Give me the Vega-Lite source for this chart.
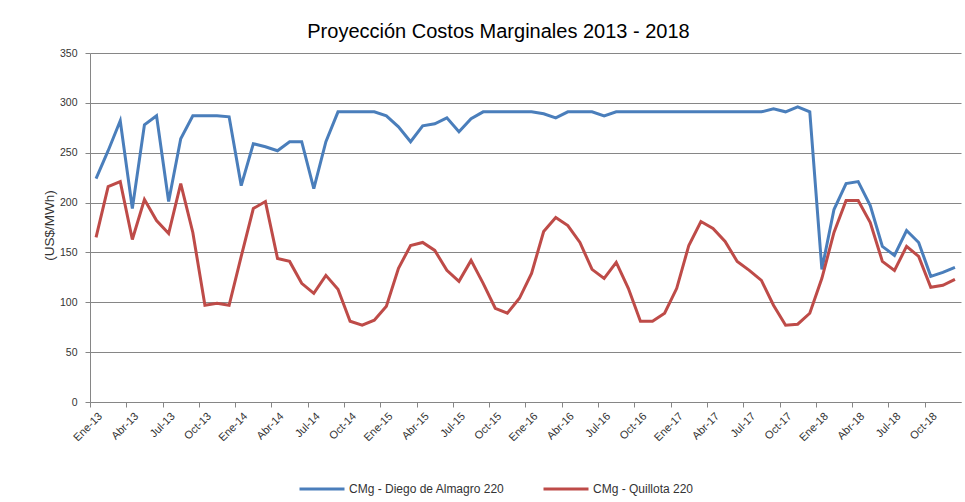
{
  "$schema": "https://vega.github.io/schema/vega-lite/v6.json",
  "width": 871,
  "height": 349,
  "autosize": {"type": "none"},
  "padding": {"left": 90, "top": 53, "right": 4, "bottom": 100},
  "background": "white",
  "config": {"font": "Liberation Sans", "view": {"stroke": null}},
  "title": {"text": "Proyección Costos Marginales 2013 - 2018", "fontSize": 20, "fontWeight": "normal", "color": "black", "dx": -27, "offset": 6, "anchor": "middle"},
  "data": {"values": [
    {"mes": "Ene-13", "CMg - Diego de Almagro 220": 224, "CMg - Quillota 220": 165},
    {"mes": "Feb-13", "CMg - Diego de Almagro 220": 252, "CMg - Quillota 220": 216},
    {"mes": "Mar-13", "CMg - Diego de Almagro 220": 282, "CMg - Quillota 220": 221},
    {"mes": "Abr-13", "CMg - Diego de Almagro 220": 194, "CMg - Quillota 220": 163},
    {"mes": "May-13", "CMg - Diego de Almagro 220": 278, "CMg - Quillota 220": 203},
    {"mes": "Jun-13", "CMg - Diego de Almagro 220": 287, "CMg - Quillota 220": 182},
    {"mes": "Jul-13", "CMg - Diego de Almagro 220": 201, "CMg - Quillota 220": 169},
    {"mes": "Ago-13", "CMg - Diego de Almagro 220": 264, "CMg - Quillota 220": 219},
    {"mes": "Sep-13", "CMg - Diego de Almagro 220": 287, "CMg - Quillota 220": 170},
    {"mes": "Oct-13", "CMg - Diego de Almagro 220": 287, "CMg - Quillota 220": 97},
    {"mes": "Nov-13", "CMg - Diego de Almagro 220": 287, "CMg - Quillota 220": 99},
    {"mes": "Dic-13", "CMg - Diego de Almagro 220": 286, "CMg - Quillota 220": 97},
    {"mes": "Ene-14", "CMg - Diego de Almagro 220": 217, "CMg - Quillota 220": 146},
    {"mes": "Feb-14", "CMg - Diego de Almagro 220": 259, "CMg - Quillota 220": 194},
    {"mes": "Mar-14", "CMg - Diego de Almagro 220": 256, "CMg - Quillota 220": 201},
    {"mes": "Abr-14", "CMg - Diego de Almagro 220": 252, "CMg - Quillota 220": 144},
    {"mes": "May-14", "CMg - Diego de Almagro 220": 261, "CMg - Quillota 220": 141},
    {"mes": "Jun-14", "CMg - Diego de Almagro 220": 261, "CMg - Quillota 220": 119},
    {"mes": "Jul-14", "CMg - Diego de Almagro 220": 214, "CMg - Quillota 220": 109},
    {"mes": "Ago-14", "CMg - Diego de Almagro 220": 261, "CMg - Quillota 220": 127},
    {"mes": "Sep-14", "CMg - Diego de Almagro 220": 291, "CMg - Quillota 220": 113},
    {"mes": "Oct-14", "CMg - Diego de Almagro 220": 291, "CMg - Quillota 220": 81},
    {"mes": "Nov-14", "CMg - Diego de Almagro 220": 291, "CMg - Quillota 220": 77},
    {"mes": "Dic-14", "CMg - Diego de Almagro 220": 291, "CMg - Quillota 220": 82},
    {"mes": "Ene-15", "CMg - Diego de Almagro 220": 287, "CMg - Quillota 220": 96},
    {"mes": "Feb-15", "CMg - Diego de Almagro 220": 276, "CMg - Quillota 220": 134},
    {"mes": "Mar-15", "CMg - Diego de Almagro 220": 261, "CMg - Quillota 220": 157},
    {"mes": "Abr-15", "CMg - Diego de Almagro 220": 277, "CMg - Quillota 220": 160},
    {"mes": "May-15", "CMg - Diego de Almagro 220": 279, "CMg - Quillota 220": 152},
    {"mes": "Jun-15", "CMg - Diego de Almagro 220": 285, "CMg - Quillota 220": 132},
    {"mes": "Jul-15", "CMg - Diego de Almagro 220": 271, "CMg - Quillota 220": 121},
    {"mes": "Ago-15", "CMg - Diego de Almagro 220": 284, "CMg - Quillota 220": 142},
    {"mes": "Sep-15", "CMg - Diego de Almagro 220": 291, "CMg - Quillota 220": 119},
    {"mes": "Oct-15", "CMg - Diego de Almagro 220": 291, "CMg - Quillota 220": 94},
    {"mes": "Nov-15", "CMg - Diego de Almagro 220": 291, "CMg - Quillota 220": 89},
    {"mes": "Dic-15", "CMg - Diego de Almagro 220": 291, "CMg - Quillota 220": 104},
    {"mes": "Ene-16", "CMg - Diego de Almagro 220": 291, "CMg - Quillota 220": 129},
    {"mes": "Feb-16", "CMg - Diego de Almagro 220": 289, "CMg - Quillota 220": 171},
    {"mes": "Mar-16", "CMg - Diego de Almagro 220": 285, "CMg - Quillota 220": 185},
    {"mes": "Abr-16", "CMg - Diego de Almagro 220": 291, "CMg - Quillota 220": 177},
    {"mes": "May-16", "CMg - Diego de Almagro 220": 291, "CMg - Quillota 220": 160},
    {"mes": "Jun-16", "CMg - Diego de Almagro 220": 291, "CMg - Quillota 220": 133},
    {"mes": "Jul-16", "CMg - Diego de Almagro 220": 287, "CMg - Quillota 220": 124},
    {"mes": "Ago-16", "CMg - Diego de Almagro 220": 291, "CMg - Quillota 220": 140},
    {"mes": "Sep-16", "CMg - Diego de Almagro 220": 291, "CMg - Quillota 220": 114},
    {"mes": "Oct-16", "CMg - Diego de Almagro 220": 291, "CMg - Quillota 220": 81},
    {"mes": "Nov-16", "CMg - Diego de Almagro 220": 291, "CMg - Quillota 220": 81},
    {"mes": "Dic-16", "CMg - Diego de Almagro 220": 291, "CMg - Quillota 220": 89},
    {"mes": "Ene-17", "CMg - Diego de Almagro 220": 291, "CMg - Quillota 220": 114},
    {"mes": "Feb-17", "CMg - Diego de Almagro 220": 291, "CMg - Quillota 220": 157},
    {"mes": "Mar-17", "CMg - Diego de Almagro 220": 291, "CMg - Quillota 220": 181},
    {"mes": "Abr-17", "CMg - Diego de Almagro 220": 291, "CMg - Quillota 220": 174},
    {"mes": "May-17", "CMg - Diego de Almagro 220": 291, "CMg - Quillota 220": 161},
    {"mes": "Jun-17", "CMg - Diego de Almagro 220": 291, "CMg - Quillota 220": 141},
    {"mes": "Jul-17", "CMg - Diego de Almagro 220": 291, "CMg - Quillota 220": 132},
    {"mes": "Ago-17", "CMg - Diego de Almagro 220": 291, "CMg - Quillota 220": 122},
    {"mes": "Sep-17", "CMg - Diego de Almagro 220": 294, "CMg - Quillota 220": 97},
    {"mes": "Oct-17", "CMg - Diego de Almagro 220": 291, "CMg - Quillota 220": 77},
    {"mes": "Nov-17", "CMg - Diego de Almagro 220": 296, "CMg - Quillota 220": 78},
    {"mes": "Dic-17", "CMg - Diego de Almagro 220": 291, "CMg - Quillota 220": 89},
    {"mes": "Ene-18", "CMg - Diego de Almagro 220": 133, "CMg - Quillota 220": 124},
    {"mes": "Feb-18", "CMg - Diego de Almagro 220": 193, "CMg - Quillota 220": 170},
    {"mes": "Mar-18", "CMg - Diego de Almagro 220": 219, "CMg - Quillota 220": 202},
    {"mes": "Abr-18", "CMg - Diego de Almagro 220": 221, "CMg - Quillota 220": 202},
    {"mes": "May-18", "CMg - Diego de Almagro 220": 197, "CMg - Quillota 220": 180},
    {"mes": "Jun-18", "CMg - Diego de Almagro 220": 156, "CMg - Quillota 220": 141},
    {"mes": "Jul-18", "CMg - Diego de Almagro 220": 147, "CMg - Quillota 220": 132},
    {"mes": "Ago-18", "CMg - Diego de Almagro 220": 172, "CMg - Quillota 220": 156},
    {"mes": "Sep-18", "CMg - Diego de Almagro 220": 160, "CMg - Quillota 220": 146},
    {"mes": "Oct-18", "CMg - Diego de Almagro 220": 126, "CMg - Quillota 220": 115},
    {"mes": "Nov-18", "CMg - Diego de Almagro 220": 130, "CMg - Quillota 220": 117},
    {"mes": "Dic-18", "CMg - Diego de Almagro 220": 135, "CMg - Quillota 220": 123}
  ]},
  "transform": [{"fold": ["CMg - Diego de Almagro 220", "CMg - Quillota 220"], "as": ["serie", "valor"]}],
  "mark": {"type": "line", "strokeWidth": 3},
  "encoding": {
    "x": {
      "field": "mes", "type": "ordinal", "sort": null,
      "scale": {"type": "point", "padding": 0.5},
      "axis": {
        "title": null,
        "values": ["Ene-13","Abr-13","Jul-13","Oct-13","Ene-14","Abr-14","Jul-14","Oct-14","Ene-15","Abr-15","Jul-15","Oct-15","Ene-16","Abr-16","Jul-16","Oct-16","Ene-17","Abr-17","Jul-17","Oct-17","Ene-18","Abr-18","Jul-18","Oct-18"],
        "labelAngle": -45, "tickOffset": -6.05, "labelOffset": 6.05,
        "grid": false, "domainColor": "#868686", "tickColor": "#868686", "tickSize": 5,
        "labelFontSize": 11, "labelColor": "#333333", "labelPadding": 3
      }
    },
    "y": {
      "field": "valor", "type": "quantitative",
      "scale": {"domain": [0, 350]},
      "axis": {
        "title": "(US$/MWh)", "titleFontSize": 13.5, "titleFontWeight": "normal", "titleColor": "#333333",
        "titleX": -41, "titleY": 172, "titleAngle": 270, "titleAlign": "center", "titleBaseline": "middle",
        "values": [0, 50, 100, 150, 200, 250, 300, 350],
        "grid": true, "gridColor": "#868686", "gridWidth": 1,
        "domainColor": "#868686", "tickColor": "#868686", "tickSize": 5,
        "labelFontSize": 10.5, "labelColor": "#333333", "labelPadding": 8
      }
    },
    "color": {
      "field": "serie", "type": "nominal",
      "scale": {"domain": ["CMg - Diego de Almagro 220", "CMg - Quillota 220"], "range": ["#4A7EBB", "#BE4B48"]},
      "legend": {
        "orient": "none", "legendX": 208, "legendY": 412, "direction": "horizontal", "title": null,
        "symbolType": "stroke", "symbolSize": 2025, "symbolStrokeWidth": 3,
        "labelFontSize": 12, "labelColor": "#333333", "columnPadding": 32, "labelOffset": 3
      }
    }
  }
}
